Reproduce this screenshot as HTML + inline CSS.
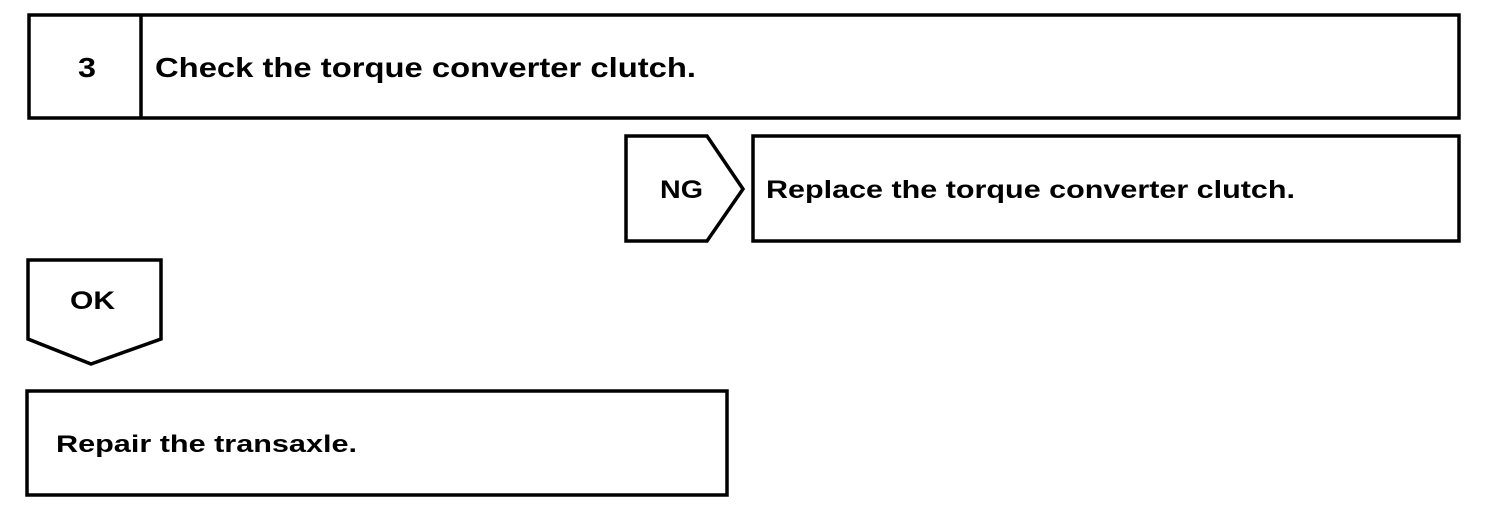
<!DOCTYPE html>
<html><head><meta charset="utf-8"><style>
html,body{margin:0;padding:0;background:#fff;}
svg{display:block;}
text{font-family:"Liberation Sans",Arial,sans-serif;font-weight:bold;fill:#000;}
</style></head><body>
<svg width="1504" height="522" viewBox="0 0 1504 522" xmlns="http://www.w3.org/2000/svg">
<g fill="none" stroke="#000" stroke-width="3.5">
<rect x="29" y="15" width="1430" height="103"/>
<line x1="141" y1="15" x2="141" y2="118"/>
<polygon points="626,136 707,136 743,189 707,241 626,241"/>
<rect x="753" y="136" width="706" height="105"/>
<polygon points="28,260 161,260 161,339 91,364 28,339"/>
<rect x="27" y="391" width="700" height="104"/>
</g>
<text x="78" y="77" font-size="28" textLength="18" lengthAdjust="spacingAndGlyphs">3</text>
<text x="155" y="77" font-size="28" textLength="541" lengthAdjust="spacingAndGlyphs">Check the torque converter clutch.</text>
<text x="660" y="198" font-size="25" textLength="43" lengthAdjust="spacingAndGlyphs">NG</text>
<text x="766" y="198" font-size="25" textLength="529" lengthAdjust="spacingAndGlyphs">Replace the torque converter clutch.</text>
<text x="70" y="309" font-size="25" textLength="45" lengthAdjust="spacingAndGlyphs">OK</text>
<text x="56" y="452" font-size="24" textLength="301" lengthAdjust="spacingAndGlyphs">Repair the transaxle.</text>
</svg>
</body></html>
